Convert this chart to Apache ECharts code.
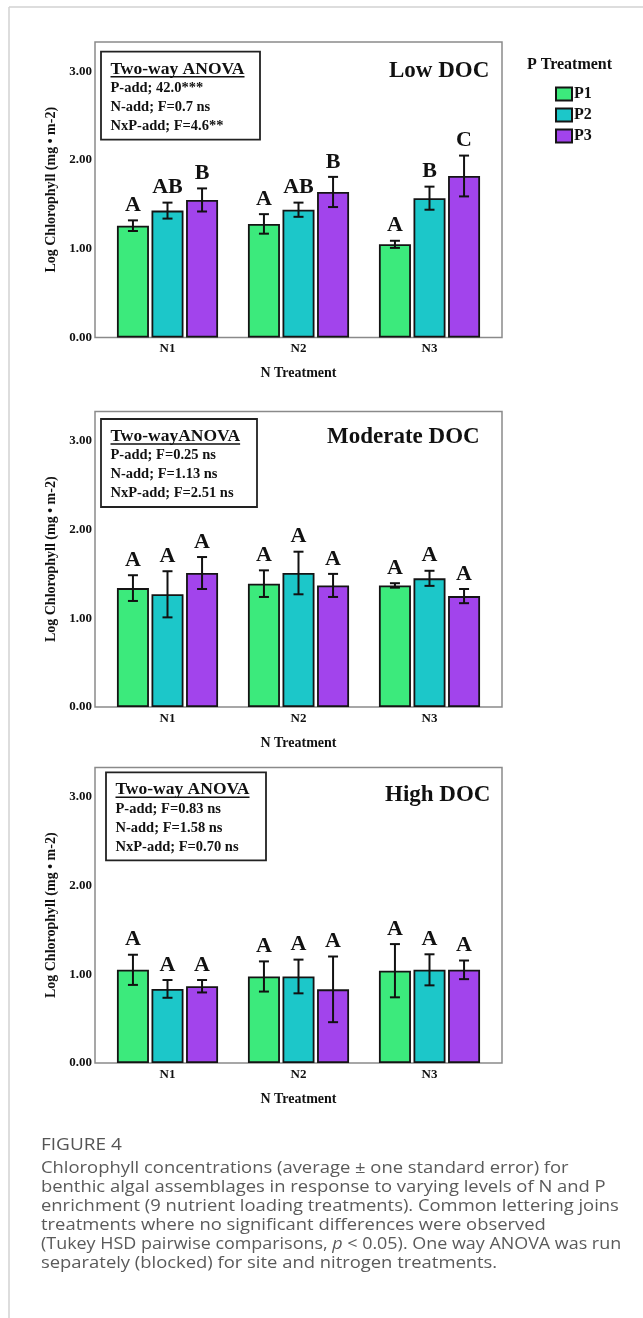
<!DOCTYPE html>
<html><head><meta charset="utf-8">
<script src="https://cdn.jsdelivr.net/npm/echarts@6/dist/echarts.min.js"></script>
<style>html,body{margin:0;padding:0;background:#fff}#c{width:643px;height:1318px}</style>
</head><body><div id="c"></div>
<script>
// ---------------- DATA ----------------
const categories = ['N1', 'N2', 'N3'];
const pNames = ['P1', 'P2', 'P3'];
const yTickValues = [0, 1, 2, 3];

// rows: P1, P2, P3 ; columns: N1, N2, N3
const lowMeans = [[1.26, 1.28, 1.05], [1.43, 1.44, 1.57], [1.55, 1.64, 1.82]];
const lowErrs = [[0.06, 0.11, 0.04], [0.09, 0.08, 0.13], [0.13, 0.17, 0.23]];
const lowLetters = [['A', 'A', 'A'], ['AB', 'AB', 'B'], ['B', 'B', 'C']];
const lowAnova = ['Two-way ANOVA', 'P-add; 42.0***', 'N-add; F=0.7 ns', 'NxP-add; F=4.6**'];

const modMeans = [[1.34, 1.39, 1.37], [1.27, 1.51, 1.45], [1.51, 1.37, 1.25]];
const modErrs = [[0.145, 0.15, 0.025], [0.26, 0.24, 0.085], [0.18, 0.13, 0.08]];
const modLetters = [['A', 'A', 'A'], ['A', 'A', 'A'], ['A', 'A', 'A']];
const modAnova = ['Two-wayANOVA', 'P-add; F=0.25 ns', 'N-add; F=1.13 ns', 'NxP-add; F=2.51 ns'];

const highMeans = [[1.05, 0.975, 1.04], [0.835, 0.975, 1.05], [0.865, 0.83, 1.05]];
const highErrs = [[0.17, 0.17, 0.30], [0.10, 0.19, 0.175], [0.07, 0.37, 0.105]];
const highLetters = [['A', 'A', 'A'], ['A', 'A', 'A'], ['A', 'A', 'A']];
const highAnova = ['Two-way ANOVA', 'P-add; F=0.83 ns', 'N-add; F=1.58 ns', 'NxP-add; F=0.70 ns'];

const panelTitles = ['Low DOC', 'Moderate DOC', 'High DOC'];
const yAxisName = 'Log Chlorophyll (mg \u2022 m-2)';
const xAxisName = 'N Treatment';
const legendTitle = 'P Treatment';
const figureLabel = 'FIGURE 4';
const captionLines = [
  'Chlorophyll concentrations (average \u00B1 one standard error) for',
  'benthic algal assemblages in response to varying levels of N and P',
  'enrichment (9 nutrient loading treatments). Common lettering joins',
  'treatments where no significant differences were observed',
  '(Tukey HSD pairwise comparisons, {i|p} < 0.05). One way ANOVA was run',
  'separately (blocked) for site and nitrogen treatments.'
];

// ---------------- STYLE / LAYOUT ----------------
const SERIF = "'Liberation Serif','Times New Roman',serif";
const colors = ['#3CEA7C', '#1CC7C9', '#A244EC'];
const BAR_W = 32, BAR_GAP = 0.08;
const panels = [
  { means: lowMeans, errs: lowErrs, letters: lowLetters, anova: lowAnova, top: 42, box: [101, 51.7, 159], titleX: 389, titleY: 71 },
  { means: modMeans, errs: modErrs, letters: modLetters, anova: modAnova, top: 411.5, box: [101, 419, 156], titleX: 327, titleY: 437 },
  { means: highMeans, errs: highErrs, letters: highLetters, anova: highAnova, top: 767.5, box: [106, 772.3, 160], titleX: 385, titleY: 795 }
];
const PLOT_H = 295.5;
const YMAX = 3.33;

const measure = (() => {
  const ctx = document.createElement('canvas').getContext('2d');
  return (t, font) => { ctx.font = font; return ctx.measureText(t).width; };
})();

const grids = [], xAxes = [], yAxes = [], series = [], graphics = [];

panels.forEach((p, gi) => {
  grids.push({ left: 102, width: 393, top: p.top, height: PLOT_H });
  xAxes.push({
    type: 'category', gridIndex: gi, data: categories,
    axisLine: { show: false }, axisTick: { show: false }, splitLine: { show: false },
    axisLabel: { margin: 5, color: '#111', fontFamily: SERIF, fontWeight: 'bold', fontSize: 13 },
    name: xAxisName, nameLocation: 'middle', nameGap: 29,
    nameTextStyle: { color: '#111', fontFamily: SERIF, fontWeight: 'bold', fontSize: 14 }
  });
  yAxes.push({
    type: 'value', gridIndex: gi, min: 0, max: YMAX, interval: 1,
    axisLine: { show: false }, axisTick: { show: false }, splitLine: { show: false },
    axisLabel: {
      margin: 10, color: '#111', fontFamily: SERIF, fontWeight: 'bold', fontSize: 13,
      showMaxLabel: false,
      formatter: v => yTickValues.includes(v) ? v.toFixed(2) : ''
    },
    name: yAxisName, nameLocation: 'middle', nameGap: 44,
    nameTextStyle: { color: '#111', fontFamily: SERIF, fontWeight: 'bold', fontSize: 14 }
  });
  pNames.forEach((pn, j) => {
    series.push({
      type: 'bar', name: pn, xAxisIndex: gi, yAxisIndex: gi,
      data: p.means[j], barWidth: BAR_W, barGap: (BAR_GAP * 100) + '%',
      itemStyle: { color: colors[j], borderColor: '#141414', borderWidth: 1.8 },
      emphasis: { disabled: true }, silent: true
    });
    const letters = p.letters[j];
    series.push({
      type: 'custom', xAxisIndex: gi, yAxisIndex: gi, z: 5, silent: true,
      data: p.means[j].map((m, k) => [k, m, p.errs[j][k]]),
      renderItem: (params, api) => {
        const k = api.value(0), m = api.value(1), e = api.value(2);
        const hi = api.coord([k, m + e]), lo = api.coord([k, m - e]);
        const cx = hi[0] + (j - 1) * BAR_W * (1 + BAR_GAP);
        const cap = 5;
        const ls = { stroke: '#111', lineWidth: 2 };
        return {
          type: 'group', children: [
            { type: 'line', shape: { x1: cx, y1: hi[1], x2: cx, y2: lo[1] }, style: ls },
            { type: 'line', shape: { x1: cx - cap, y1: hi[1], x2: cx + cap, y2: hi[1] }, style: ls },
            { type: 'line', shape: { x1: cx - cap, y1: lo[1], x2: cx + cap, y2: lo[1] }, style: ls },
            { type: 'text', x: cx, y: hi[1] - 4, style: {
                text: letters[params.dataIndex], fill: '#111',
                font: 'bold 22px ' + SERIF,
                align: 'center', verticalAlign: 'bottom', textAlign: 'center', textVerticalAlign: 'bottom' } }
          ]
        };
      }
    });
  });

  // plot frame
  graphics.push({ type: 'rect', shape: { x: 95, y: p.top, width: 407, height: PLOT_H },
    style: { fill: 'none', stroke: '#8a8a8a', lineWidth: 1.5 }, z: 1 });
  // ANOVA box
  const [bx, by, bw] = p.box;
  graphics.push({ type: 'rect', shape: { x: bx, y: by, width: bw, height: 88 },
    style: { fill: '#fff', stroke: '#222', lineWidth: 1.8 }, z: 10 });
  const tx = bx + 9.5;
  const titleFont = 'bold 17.5px ' + SERIF;
  graphics.push({ type: 'text', x: tx, y: by + 17.5, z: 11,
    style: { text: p.anova[0], font: titleFont, fill: '#111', align: 'left', verticalAlign: 'middle' } });
  const tw = measure(p.anova[0], titleFont);
  graphics.push({ type: 'line', shape: { x1: tx, y1: by + 25, x2: tx + tw, y2: by + 25 },
    style: { stroke: '#111', lineWidth: 1.6 }, z: 11 });
  [36.5, 55.5, 74.5].forEach((dy, li) => {
    graphics.push({ type: 'text', x: tx, y: by + dy, z: 11,
      style: { text: p.anova[li + 1], font: 'bold 14.5px ' + SERIF, fill: '#111', align: 'left', verticalAlign: 'middle' } });
  });
  // panel title
  graphics.push({ type: 'text', x: p.titleX, y: p.titleY, z: 11,
    style: { text: panelTitles[gi], font: 'bold 23px ' + SERIF, fill: '#111', align: 'left', verticalAlign: 'middle' } });
});

// legend title
graphics.push({ type: 'text', x: 569.5, y: 65, z: 11,
  style: { text: legendTitle, font: 'bold 16px ' + SERIF, fill: '#111', align: 'center', verticalAlign: 'middle' } });

// outer page frame lines
graphics.push({ type: 'line', shape: { x1: 9, y1: 7, x2: 643, y2: 7 }, style: { stroke: '#d2d2d2', lineWidth: 1.5 } });
graphics.push({ type: 'line', shape: { x1: 9, y1: 7, x2: 9, y2: 1318 }, style: { stroke: '#d2d2d2', lineWidth: 1.5 } });

// caption (horizontally widened to match the reference's wide face)
const CAP_FONT = "'Open Sans',Lato,sans-serif";
const CAP_SX = [1.15, 1.15, 1.15, 1.15, 1.12, 1.15];
graphics.push({ type: 'text', x: 41, y: 1145, scaleX: 1.15,
  style: { text: figureLabel, font: '16.5px ' + CAP_FONT, fill: '#555', align: 'left', verticalAlign: 'middle' } });
captionLines.forEach((line, i) => {
  graphics.push({ type: 'text', x: 41, y: 1168 + i * 19, scaleX: CAP_SX[i],
    style: { text: line, fontFamily: CAP_FONT, fontSize: 16, fill: '#5a5a5a', align: 'left', verticalAlign: 'middle',
      rich: { i: { fontStyle: 'italic', fontFamily: CAP_FONT, fontSize: 16, fill: '#5a5a5a' } } } });
});

const chart = echarts.init(document.getElementById('c'), null, { renderer: 'canvas' });
chart.setOption({
  animation: false,
  backgroundColor: '#fff',
  grid: grids, xAxis: xAxes, yAxis: yAxes, series: series,
  legend: {
    data: pNames, orient: 'vertical', left: 550, top: 81, icon: 'rect',
    itemWidth: 16, itemHeight: 13, itemGap: 5, selectedMode: false,
    textStyle: { color: '#111', fontFamily: SERIF, fontWeight: 'bold', fontSize: 16, lineHeight: 13, padding: [0, 0, 0, -3] }
  },
  graphic: graphics
});
</script>
</body></html>
